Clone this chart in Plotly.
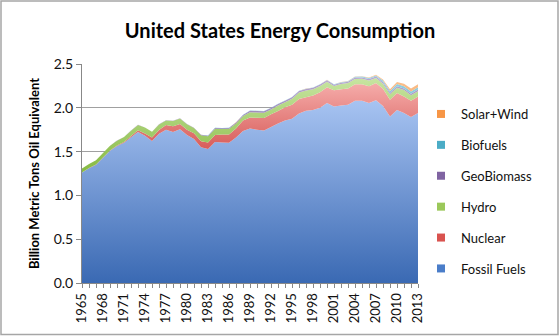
import plotly.graph_objects as go

years = list(range(1965, 2014))

fossil = [1.26, 1.31, 1.35, 1.43, 1.51, 1.565, 1.60, 1.665, 1.725, 1.68,
          1.62, 1.705, 1.75, 1.725, 1.755, 1.69, 1.645, 1.55, 1.53, 1.61,
          1.605, 1.60, 1.66, 1.735, 1.765, 1.75, 1.74, 1.78, 1.82, 1.855,
          1.875, 1.935, 1.965, 1.975, 2.0, 2.055, 2.015, 2.025, 2.035, 2.08,
          2.08, 2.055, 2.085, 2.02, 1.90, 1.975, 1.94, 1.895, 1.94]

nuclear = [0.001, 0.002, 0.002, 0.003, 0.003, 0.005, 0.009, 0.014, 0.020, 0.028,
           0.040, 0.043, 0.055, 0.063, 0.060, 0.060, 0.065, 0.068, 0.073, 0.080,
           0.090, 0.095, 0.105, 0.120, 0.125, 0.135, 0.143, 0.145, 0.143, 0.150,
           0.160, 0.165, 0.155, 0.165, 0.178, 0.180, 0.185, 0.188, 0.185, 0.190,
           0.190, 0.192, 0.198, 0.197, 0.193, 0.195, 0.190, 0.185, 0.190]

hydro = [0.045, 0.046, 0.050, 0.050, 0.054, 0.055, 0.058, 0.060, 0.060, 0.066,
         0.066, 0.062, 0.050, 0.062, 0.062, 0.062, 0.058, 0.068, 0.073, 0.072,
         0.063, 0.065, 0.056, 0.051, 0.060, 0.062, 0.061, 0.055, 0.062, 0.057,
         0.068, 0.075, 0.078, 0.072, 0.071, 0.062, 0.049, 0.058, 0.062, 0.060,
         0.061, 0.065, 0.056, 0.058, 0.062, 0.059, 0.073, 0.063, 0.060]

geobiomass = [0.0005, 0.0005, 0.0005, 0.001, 0.001, 0.001, 0.001, 0.001, 0.002, 0.002,
              0.002, 0.002, 0.002, 0.003, 0.003, 0.003, 0.004, 0.005, 0.006, 0.007,
              0.008, 0.009, 0.010, 0.012, 0.016, 0.017, 0.017, 0.018, 0.018, 0.018,
              0.017, 0.017, 0.017, 0.017, 0.017, 0.017, 0.015, 0.016, 0.016, 0.016,
              0.016, 0.017, 0.017, 0.017, 0.017, 0.018, 0.018, 0.018, 0.019]

biofuels = [0, 0, 0, 0, 0, 0, 0, 0, 0, 0,
            0, 0, 0, 0, 0, 0.0002, 0.0005, 0.001, 0.0015, 0.002,
            0.002, 0.002, 0.002, 0.002, 0.002, 0.002, 0.002, 0.002, 0.003, 0.003,
            0.003, 0.002, 0.003, 0.003, 0.003, 0.004, 0.004, 0.005, 0.006, 0.008,
            0.009, 0.011, 0.014, 0.019, 0.021, 0.025, 0.025, 0.024, 0.025]

solar_wind = [0, 0, 0, 0, 0, 0, 0, 0, 0, 0,
              0, 0, 0, 0, 0, 0, 0, 0, 0.0001, 0.0002,
              0.0005, 0.001, 0.001, 0.001, 0.001, 0.001, 0.001, 0.001, 0.001, 0.001,
              0.001, 0.001, 0.001, 0.001, 0.001, 0.002, 0.002, 0.003, 0.003, 0.004,
              0.004, 0.006, 0.008, 0.013, 0.018, 0.022, 0.028, 0.034, 0.036]

tick_years = list(range(1965, 2014, 3))
y_ticks = [0.0, 0.5, 1.0, 1.5, 2.0, 2.5]

series = [
    ("Fossil Fuels", fossil, "#3A69B3", "#A8C4F2", "#4A7DC9", 0.0, 2.1),
    ("Nuclear", nuclear, "#D65A57", "#F6AEAC", "#D9534F", 1.5, 2.3),
    ("Hydro", hydro, "#88BB45", "#C8E5A2", "#9BC85A", 1.3, 2.35),
    ("GeoBiomass", geobiomass, "#7A5C9E", "#B9A8CF", "#8064A2", 1.3, 2.35),
    ("Biofuels", biofuels, "#3BA6C4", "#97D2E4", "#4BACC6", 1.3, 2.35),
    ("Solar+Wind", solar_wind, "#F28C3A", "#FAC393", "#F79646", 1.3, 2.4),
]

# plot area in pixels
W, H = 560, 336
L, R, T, B = 82, 418, 64, 283
pw, ph = R - L, B - T

fig = go.Figure()
for name, vals, dark, light, mid, s0, s1 in series:
    fig.add_trace(go.Scatter(
        x=years, y=vals, name=name, stackgroup="one", mode="none",
        fillgradient=dict(type="vertical", colorscale=[[0, dark], [1, light]],
                          start=s0, stop=s1),
        showlegend=False, hoverinfo="x+y+name"))

for name, vals, dark, light, mid, s0, s1 in reversed(series):
    fig.add_trace(go.Scatter(
        x=[None], y=[None], mode="markers", name=name, legendgroup=name,
        marker=dict(symbol="square", size=8, color=mid,
                    line=dict(width=0))))

fig.add_shape(type="rect", xref="paper", yref="paper",
              x0=(1 - L) / pw, x1=(558 - L) / pw,
              y0=(B - 334.5) / ph, y1=(B - 1) / ph,
              line=dict(color="#A6A6A6", width=1.5), fillcolor="rgba(0,0,0,0)",
              layer="above")

fig.update_layout(
    width=W, height=H,
    margin=dict(l=L, r=W - R, t=T, b=H - B),
    paper_bgcolor="white", plot_bgcolor="white",
    font=dict(family="Lato, Open Sans, sans-serif", size=13, color="#111"),
    title=dict(text="<b>United States Energy Consumption</b>",
               x=0.5, xref="container", xanchor="center",
               y=1 - 31 / H, yref="container", yanchor="middle",
               font=dict(size=20, color="#000")),
    showlegend=True,
    legend=dict(x=(421 - L) / pw, xanchor="left",
                y=(B - 99) / ph, yanchor="top",
                traceorder="grouped", tracegroupgap=11,
                font=dict(size=13, color="#111"),
                bgcolor="rgba(0,0,0,0)", borderwidth=0),
    xaxis=dict(range=[1965, 2013], tickmode="array", tickvals=tick_years,
               ticktext=[str(y) for y in tick_years], tickangle=-90,
               ticks="outside", ticklen=4, tickcolor="#888",
               minor=dict(dtick=1, ticks="outside", ticklen=4, tickcolor="#888"),
               showline=True, linecolor="#888", linewidth=1,
               showgrid=False, zeroline=False,
               tickfont=dict(size=13, color="#111")),
    yaxis=dict(range=[0, 2.5], tickmode="array", tickvals=y_ticks,
               ticktext=["%.1f" % v for v in y_ticks],
               ticks="outside", ticklen=5, tickcolor="#888",
               showline=True, linecolor="#888", linewidth=1,
               showgrid=True, gridcolor="#A0A0A0", gridwidth=1,
               zeroline=False,
               title=dict(text="<b>Billion Metric Tons Oil Equivalent</b>",
                          font=dict(size=13, color="#000"), standoff=11),
               tickfont=dict(size=14, color="#111")),
)

fig.write_html("out.html")
